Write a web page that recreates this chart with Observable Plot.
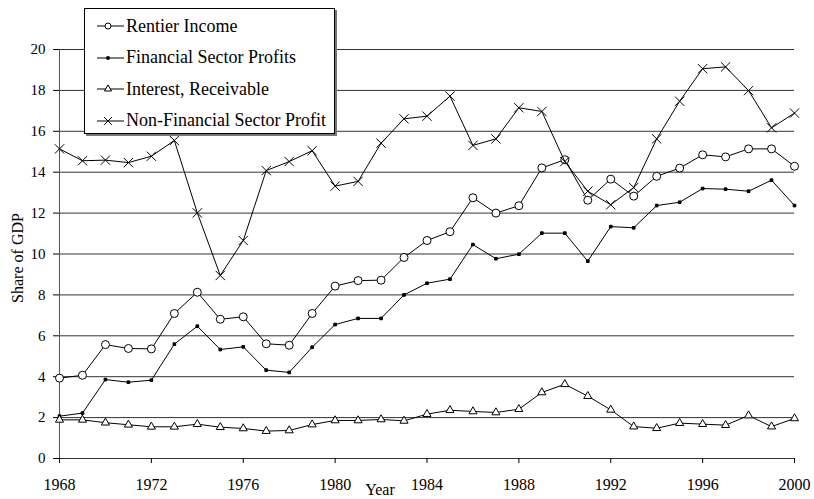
<!DOCTYPE html>
<html>
<head>
<meta charset="utf-8">
<script src="https://cdn.jsdelivr.net/npm/d3@7"></script>
<script src="https://cdn.jsdelivr.net/npm/@observablehq/plot@0.6"></script>
<style>
  html, body { margin: 0; padding: 0; background: #fff; }
  #wrap { position: relative; width: 814px; height: 499px; }
  #legend {
    position: absolute; left: 84px; top: 8px; width: 249px; height: 124px;
    background: #fff; border: 1px solid #000; box-shadow: 2px 2px 0 #777;
    font-family: "Liberation Serif", "Times New Roman", serif; font-size: 18px; color: #000;
  }
  .row { position: absolute; left: 11px; height: 20px; display: flex; align-items: center; white-space: nowrap; }
  .row svg { margin-right: 1px; }
</style>
</head>
<body>
<div id="wrap"></div>
<script>
const years = [1968,1969,1970,1971,1972,1973,1974,1975,1976,1977,1978,1979,1980,1981,1982,1983,1984,1985,1986,1987,1988,1989,1990,1991,1992,1993,1994,1995,1996,1997,1998,1999,2000];
const rentierIncome = [3.93,4.07,5.57,5.38,5.36,7.09,8.13,6.81,6.93,5.61,5.54,7.09,8.43,8.70,8.72,9.83,10.66,11.09,12.75,12.00,12.36,14.21,14.61,12.63,13.66,12.83,13.80,14.20,14.85,14.75,15.14,15.14,14.29];
const financialProfits = [2.07,2.22,3.86,3.73,3.83,5.59,6.47,5.33,5.46,4.32,4.21,5.44,6.55,6.85,6.85,8.00,8.57,8.77,10.46,9.77,9.99,11.02,11.02,9.65,11.34,11.28,12.37,12.53,13.20,13.17,13.07,13.61,12.37];
const interestReceivable = [1.89,1.89,1.75,1.65,1.55,1.55,1.68,1.53,1.47,1.34,1.37,1.66,1.86,1.86,1.91,1.84,2.17,2.36,2.30,2.25,2.41,3.23,3.63,3.05,2.38,1.56,1.48,1.73,1.68,1.63,2.10,1.56,1.96];
const nonFinancialProfit = [15.14,14.56,14.59,14.47,14.78,15.55,12.01,8.95,10.66,14.08,14.52,15.05,13.32,13.55,15.42,16.61,16.74,17.72,15.31,15.63,17.15,16.97,14.52,13.07,12.41,13.25,15.63,17.47,19.06,19.15,17.99,16.17,16.89];
const yTicks = [0,2,4,6,8,10,12,14,16,18,20];
const xTicks = [1968,1972,1976,1980,1984,1988,1992,1996,2000];
const seriesNames = ["Rentier Income","Financial Sector Profits","Interest, Receivable","Non-Financial Sector Profit"];
const seriesSymbols = ["circle","square","triangle","times"];
const seriesR = [4, 1.5, 3, 4.3];
const seriesValues = [rentierIncome, financialProfits, interestReceivable, nonFinancialProfit];

const rows = [];
seriesValues.forEach((vals, s) => vals.forEach((v, i) => rows.push({series: seriesNames[s], year: years[i], value: v, s})));

const marks = [
  Plot.gridY(yTicks, {stroke: "#333", strokeOpacity: 1, strokeWidth: 1}),
  Plot.axisY(yTicks, {tickSize: 6, tickPadding: 8, label: null, fontSize: 15}),
  Plot.ruleX([1968], {stroke: "#555", y1: 0, y2: 20}),
  Plot.axisX(xTicks, {tickSize: 5, tickPadding: 15, tickFormat: d => String(d), label: null, fontSize: 16}),
  Plot.text(["Share of GDP"], {text: d => d, frameAnchor: "left", textAnchor: "middle", rotate: -90, dx: -42, dy: 4, fontSize: 16}),
  Plot.text(["Year"], {text: d => d, frameAnchor: "bottom", dx: -47, dy: 36, fontSize: 16}),
];
seriesNames.forEach((name, s) => {
  const data = rows.filter(d => d.s === s);
  marks.push(Plot.line(data, {x: "year", y: "value", stroke: "#000", strokeWidth: 1}));
  marks.push(Plot.dot(data, {x: "year", y: "value", symbol: () => seriesSymbols[s], r: seriesR[s],
    stroke: "#000", strokeWidth: 1, fill: seriesSymbols[s] === "square" ? "#000" : (seriesSymbols[s] === "times" ? "none" : "#fff")}));
});

const chart = Plot.plot({
  width: 814, height: 499,
  marginLeft: 59, marginRight: 20, marginTop: 49, marginBottom: 41,
  style: {fontFamily: "'Liberation Serif', 'Times New Roman', serif", fontSize: "16px", color: "#000", background: "#fff"},
  x: {domain: [1968, 2000]},
  y: {domain: [0, 20]},
  symbol: {type: "identity"},
  marks
});
const wrap = document.getElementById("wrap");
wrap.appendChild(chart);

// legend
const legend = document.createElement("div");
legend.id = "legend";
const tops = [7, 38.5, 70, 101.5];
seriesNames.forEach((name, s) => {
  const row = document.createElement("div");
  row.className = "row";
  row.style.top = tops[s] + "px";
  const ns = "http://www.w3.org/2000/svg";
  const svg = document.createElementNS(ns, "svg");
  svg.setAttribute("width", 29); svg.setAttribute("height", 20);
  const line = document.createElementNS(ns, "line");
  line.setAttribute("x1", 1); line.setAttribute("x2", 28); line.setAttribute("y1", 10); line.setAttribute("y2", 10);
  line.setAttribute("stroke", "#000");
  svg.appendChild(line);
  const sym = seriesSymbols[s];
  let path;
  if (sym === "circle") {
    path = document.createElementNS(ns, "circle");
    path.setAttribute("cx", 12); path.setAttribute("cy", 10); path.setAttribute("r", 3);
    path.setAttribute("fill", "#fff"); path.setAttribute("stroke", "#000");
  } else {
    path = document.createElementNS(ns, "path");
    const size = Math.PI * (sym === "square" ? 1.4 : sym === "triangle" ? 2.6 : 3.6) ** 2;
    const type = sym === "square" ? d3.symbolSquare : sym === "triangle" ? d3.symbolTriangle : d3.symbolTimes;
    path.setAttribute("d", d3.symbol(type, size)());
    path.setAttribute("transform", "translate(12,10)");
    path.setAttribute("fill", sym === "square" ? "#000" : sym === "times" ? "none" : "#fff");
    path.setAttribute("stroke", "#000");
  }
  svg.appendChild(path);
  row.appendChild(svg);
  const span = document.createElement("span");
  span.textContent = name;
  row.appendChild(span);
  legend.appendChild(row);
});
wrap.appendChild(legend);
</script>
</body>
</html>
